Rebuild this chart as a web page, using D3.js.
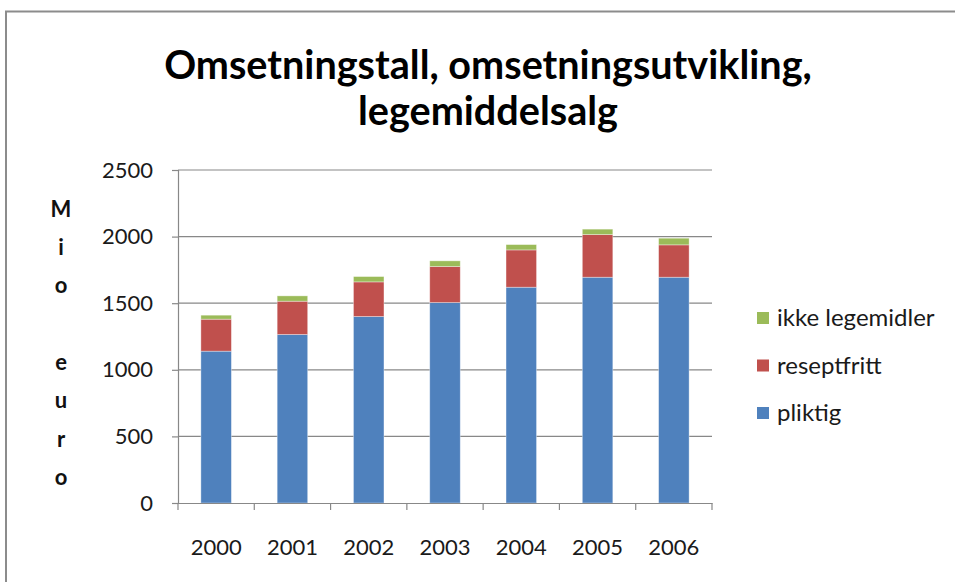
<!DOCTYPE html>
<html><head><meta charset="utf-8">
<script src="https://cdn.jsdelivr.net/npm/d3@7/dist/d3.min.js"></script>
<style>
html,body{margin:0;padding:0;background:#fff;}
svg{display:block;}
</style></head>
<body>
<svg id="chart" width="955" height="582"></svg>
<script>
const years = ["2000","2001","2002","2003","2004","2005","2006"];
const pliktig = [1140, 1265, 1400, 1505, 1620, 1695, 1695];
const reseptfritt = [240, 250, 260, 270, 280, 320, 243];
const ikkeLegemidler = [30, 40, 40, 43, 40, 41, 50];
const seriesNames = ["pliktig", "reseptfritt", "ikke legemidler"];
const seriesColors = ["#4F81BD", "#C0504D", "#9BBB59"];
const yTicks = [0, 500, 1000, 1500, 2000, 2500];
const titleLines = ["Omsetningstall, omsetningsutvikling,", "legemiddelsalg"];
const yTitle = "Mio euro";

const svg = d3.select("#chart");
const font = "Lato, 'Open Sans', sans-serif";

// chart frame
svg.append("path")
  .attr("d", "M6,600 V11.5 H960")
  .attr("fill", "none").attr("stroke", "#8c8c8c").attr("stroke-width", 2);

const plotLeft = 178, plotRight = 712, plotTop = 170, plotBottom = 503;
const x = d3.scaleBand().domain(years).range([plotLeft, plotRight]).paddingInner(0.6).paddingOuter(0.3);
const y = d3.scaleLinear().domain([0, 2500]).range([plotBottom, plotTop]);

// gridlines
svg.append("g").selectAll("line").data(yTicks.filter(d => d > 0)).join("line")
  .attr("x1", plotLeft).attr("x2", plotRight)
  .attr("y1", d => y(d)).attr("y2", d => y(d))
  .attr("stroke", "#888").attr("stroke-width", 1.2);

// stacked data
const rows = years.map((yr, i) => ({year: yr, "pliktig": pliktig[i], "reseptfritt": reseptfritt[i], "ikke legemidler": ikkeLegemidler[i]}));
const stack = d3.stack().keys(seriesNames)(rows);

svg.append("g").selectAll("g").data(stack).join("g")
  .attr("fill", (d, i) => seriesColors[i])
  .selectAll("rect").data(d => d).join("rect")
  .attr("x", d => x(d.data.year))
  .attr("width", x.bandwidth())
  .attr("y", d => y(d[1]))
  .attr("height", d => y(d[0]) - y(d[1]))
  .attr("stroke", "rgba(255,255,255,0.45)").attr("stroke-width", 0.8);

// y axis
const yAxis = d3.axisLeft(y).tickValues(yTicks).tickSize(6).tickPadding(19).tickFormat(d3.format("d"));
const gy = svg.append("g").attr("transform", `translate(${plotLeft},0)`).call(yAxis);
gy.select(".domain").attr("stroke", "#888").attr("stroke-width", 1.2);
gy.selectAll(".tick line").attr("stroke", "#888").attr("stroke-width", 1.2);
gy.selectAll(".tick text").attr("font-family", font).attr("font-size", 22).attr("fill", "#1a1a1a");

// x axis
const xAxis = d3.axisBottom(x).tickSize(0).tickPadding(36);
const gx = svg.append("g").attr("transform", `translate(0,${plotBottom})`).call(xAxis);
gx.select(".domain").attr("stroke", "#888").attr("stroke-width", 1.2);
gx.selectAll(".tick text").attr("font-family", font).attr("font-size", 22).attr("fill", "#1a1a1a");
// category boundary ticks
const bounds = years.map(d => x(d) - x.step() * x.paddingInner() / 2).concat([plotRight]);
bounds[0] = plotLeft;
gx.append("g").selectAll("line").data(bounds).join("line")
  .attr("x1", d => d).attr("x2", d => d).attr("y1", 0).attr("y2", 7)
  .attr("stroke", "#888").attr("stroke-width", 1.2);

// title
const tg = svg.append("g");
const t1 = tg.append("text").text(titleLines[0])
  .attr("x", 488).attr("y", 79).attr("text-anchor", "middle")
  .attr("font-family", font).attr("font-weight", "bold").attr("font-size", 36).attr("fill", "#000");
const w = t1.node().getComputedTextLength();
const fs = 36 * 648 / w;
t1.attr("font-size", fs);
tg.append("text").text(titleLines[1])
  .attr("x", 488).attr("y", 125).attr("text-anchor", "middle")
  .attr("font-family", font).attr("font-weight", "bold").attr("font-size", fs).attr("fill", "#000");

// y title stacked letters
svg.append("g").selectAll("text").data(yTitle.split("")).join("text")
  .attr("x", 61).attr("y", (d, i) => 209 + i * 38.3)
  .attr("dy", "0.35em").attr("text-anchor", "middle")
  .attr("font-family", font).attr("font-weight", "bold").attr("font-size", 22).attr("fill", "#111")
  .text(d => d);

// legend
const legendItems = seriesNames.map((n, i) => ({name: n, color: seriesColors[i]})).reverse();
const lg = svg.append("g").selectAll("g").data(legendItems).join("g")
  .attr("transform", (d, i) => `translate(757,${318 + i * 47.5})`);
lg.append("rect").attr("x", 0).attr("y", -6).attr("width", 12).attr("height", 12).attr("fill", d => d.color);
lg.append("text").attr("x", 20).attr("y", 0).attr("dy", "0.35em")
  .attr("font-family", font).attr("font-size", 24).attr("fill", "#1a1a1a").text(d => d.name);
</script>
</body></html>
